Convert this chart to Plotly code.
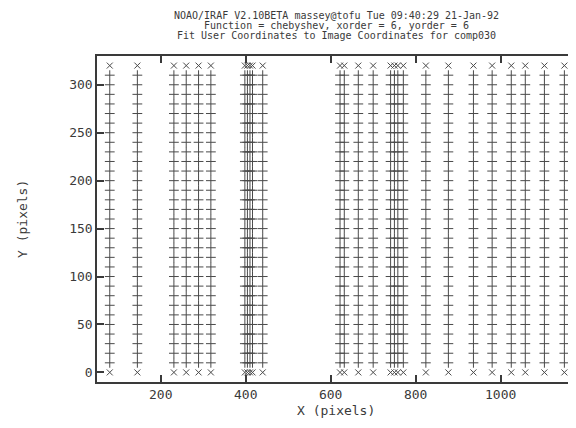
import plotly.graph_objects as go

# Column X positions (pixels) of the comparison lines
x_columns = [80, 145, 231, 260, 289, 318,
             398, 404, 410, 416, 440,
             622, 632, 665, 700, 741, 750, 758, 771,
             824, 877, 936, 980, 1025, 1058, 1103, 1150]
# Row Y positions (pixels)
y_rows = [0, 10, 20, 30, 40, 50, 60, 70, 80, 90, 100, 110, 120, 130, 140, 150,
          160, 170, 180, 190, 200, 210, 220, 230, 240, 250, 260, 270, 280, 290,
          300, 310, 320]
# rows drawn with 'x' (end rows) vs '+' (interior)
x_rows = [0, 320]

title_lines = [
    "NOAO/IRAF V2.10BETA massey@tofu Tue 09:40:29 21-Jan-92",
    "Function = chebyshev, xorder = 6, yorder = 6",
    "Fit User Coordinates to Image Coordinates for comp030",
]
x_ticks = [200, 400, 600, 800, 1000]
y_ticks = [0, 50, 100, 150, 200, 250, 300]

plus_x, plus_y, cross_x, cross_y = [], [], [], []
for cx in x_columns:
    for ry in y_rows:
        if ry in x_rows:
            cross_x.append(cx)
            cross_y.append(ry)
        else:
            plus_x.append(cx)
            plus_y.append(ry)

ink = "#3a3a3a"
mark = "#4a4a4a"
fig = go.Figure()
fig.add_trace(go.Scatter(x=plus_x, y=plus_y, mode="markers",
                         marker=dict(symbol="cross-thin", size=7,
                                     line=dict(color=mark, width=1)),
                         showlegend=False, hoverinfo="skip"))
fig.add_trace(go.Scatter(x=cross_x, y=cross_y, mode="markers",
                         marker=dict(symbol="x-thin", size=6,
                                     line=dict(color=mark, width=1)),
                         showlegend=False, hoverinfo="skip"))

font = dict(family="DejaVu Sans Mono", size=13, color=ink)
axis_common = dict(showline=True, linecolor=ink, linewidth=1.5, mirror="ticks",
                   ticks="inside", ticklen=7, tickwidth=1.5, tickcolor=ink,
                   showgrid=False, zeroline=False, tickfont=font, automargin=False)
# page body has an 8px default margin, so the figure is sized to compensate
fig.update_layout(
    width=568, height=420,
    margin=dict(l=89, r=1, t=48, b=46),
    paper_bgcolor="white", plot_bgcolor="white",
    xaxis=dict(range=[50, 1175], tickvals=x_ticks, **axis_common),
    yaxis=dict(range=[-10, 330], tickvals=y_ticks, **axis_common),
)
fig.add_annotation(text="X (pixels)", xref="paper", yref="paper", x=0.5, y=0,
                   yshift=-28, yanchor="middle", showarrow=False, font=font)
fig.add_annotation(text="Y (pixels)", xref="paper", yref="paper", x=0, y=0.5,
                   xshift=-75, xanchor="center", textangle=-90, showarrow=False,
                   font=font)
for i, line in enumerate(title_lines):
    fig.add_annotation(text=line, xref="paper", yref="paper", x=0.5, y=1,
                       yshift=41 - 10 * i, yanchor="middle", showarrow=False,
                       font=dict(family="DejaVu Sans Mono", size=10, color=ink))

fig.write_html("out.html")
